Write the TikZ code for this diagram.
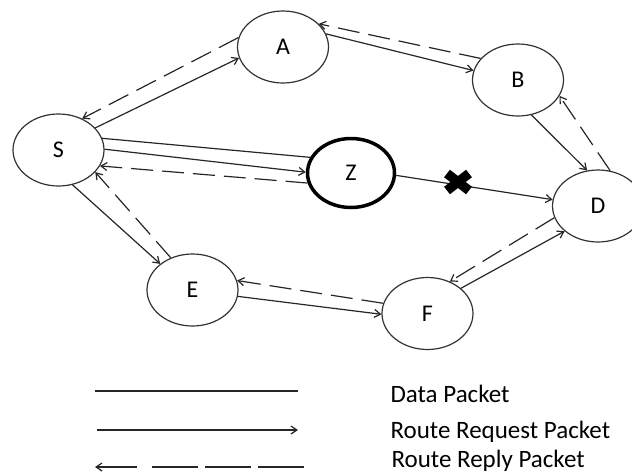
\documentclass[tikz,border=0pt]{standalone}
\usepackage{fontspec}
\setmainfont{Carlito}
\usetikzlibrary{shapes.geometric,arrows.meta}
\begin{document}
\begin{tikzpicture}[x=1pt,y=-1pt,
  nd/.style={ellipse,draw=black!80,line width=1.2pt,minimum width=91pt,minimum height=72pt,inner sep=0pt,font=\fontsize{24}{28}\selectfont},
  link/.style={line width=1.2pt,draw=black!85},
  req/.style={link,-{Straight Barb[length=6pt,width=8pt]}},
  rep/.style={link,dash pattern=on 22pt off 9pt,-{Straight Barb[length=6pt,width=8pt]}},
  leg/.style={anchor=base west,font=\fontsize{25}{30}\selectfont}]
\useasboundingbox (0,0) rectangle (632,474);
% nodes
\node[nd] (A) at (283,47) {A};
\node[nd] (B) at (518,80) {B};
\node[nd] (S) at (58.5,150) {S};
\node[nd,draw=black,line width=3.5pt,minimum width=87pt,minimum height=69pt] (Z) at (351,173) {Z};
\node[nd] (D) at (598,206) {D};
\node[nd] (E) at (192.5,290) {E};
\node[nd] (F) at (427.5,313.5) {F};
% connectors
\draw[req] (S.31) -- (A.194);
\draw[rep] (A.168) -- (S.53);
\draw[req] (A.17) -- (B.168);
\draw[rep] (B.150) -- (A.33);
\draw[req] (B.291) -- (D.107);
\draw[rep] (D.71) -- (B.339);
\draw[link] (S.15) -- (Z.159);
\draw[req] (S.1) -- (Z.179);
\draw[rep] (Z.193) -- (S.339);
\draw[req] (Z.357) -- (D.172);
\draw[rep] (D.195) -- (F.55);
\draw[req] (F.37) -- (D.217);
\draw[rep] (F.167) -- (E.12);
\draw[req] (E.352) -- (F.181);
\draw[req] (S.292) -- (E.141);
\draw[rep] (E.124) -- (S.329);
% broken link mark
\coordinate (X) at (458,182);
\draw[line width=9.5pt,black] ([shift={(-11,-8.5)}]X) -- ([shift={(11,8.5)}]X);
\draw[line width=9.5pt,black] ([shift={(-11,8.5)}]X) -- ([shift={(11,-8.5)}]X);
% legend
\coordinate (l1a) at (95,391); \coordinate (l1b) at (298,391);
\coordinate (l2a) at (97,430); \coordinate (l2b) at (298,430);
\coordinate (l3a) at (137,467); \coordinate (l3b) at (95,467);
\coordinate (l3c) at (152,467); \coordinate (l3d) at (305,467);
\draw[link] (l1a) -- (l1b);
\draw[req] (l2a) -- (l2b);
\draw[req] (l3a) -- (l3b);
\draw[link,dash pattern=on 46pt off 7pt] (l3c) -- (l3d);
\node[leg] (t1) at (387,402) {Data Packet};
\node[leg] (t2) at (387,438) {Route Request Packet};
\node[leg] (t3) at (388,467.5) {Route Reply Packet};
\end{tikzpicture}
\end{document}
